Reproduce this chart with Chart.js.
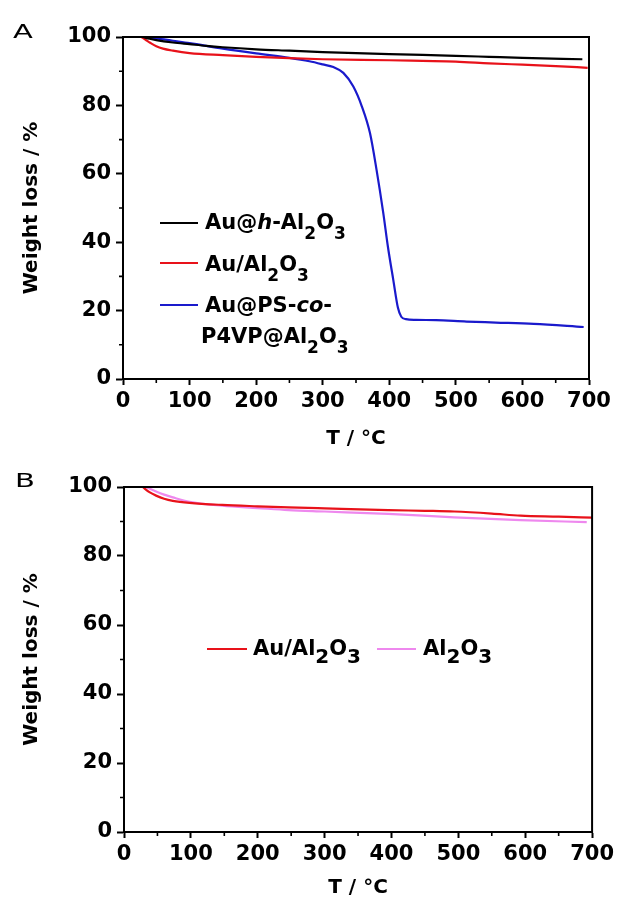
<!DOCTYPE html>
<html><head><meta charset="utf-8">
<script src="https://cdn.jsdelivr.net/npm/chart.js@4.4.1/dist/chart.umd.min.js"></script>
<style>
html,body{margin:0;padding:0;background:#fff;}
body{width:618px;height:905px;position:relative;overflow:hidden;font-family:"DejaVu Sans",sans-serif;}
.panel{position:absolute;left:0;width:618px;}
.panel canvas{display:block;}
.plabel{position:absolute;font-size:20px;line-height:20px;color:#000;transform:scaleX(1.45);transform-origin:left top;}
.leg{position:absolute;font-weight:bold;font-size:21px;line-height:21px;white-space:nowrap;color:#000;}
.leg.a sub{font-size:17px;vertical-align:-10px;line-height:0;}
.leg.b sub{font-size:20px;vertical-align:-8px;line-height:0;}
.sw{position:absolute;height:2px;}
</style></head><body>
<div class="panel" style="top:0;height:455px"><canvas id="cA" width="618" height="455"></canvas></div>
<div class="panel" style="top:455px;height:450px"><canvas id="cB" width="618" height="450"></canvas></div>
<div class="plabel" style="left:13px;top:21px">A</div>
<div class="plabel" style="left:15px;top:470px">B</div>
<div id="legends"></div>
<script>
// ---------- data ----------
// Panel A
const tA_hAl2O3 = [30, 40, 50, 75, 100, 125, 150, 200, 250, 300, 400, 500, 550, 600, 690];
const wA_hAl2O3 = [100, 99.5, 99.1, 98.4, 97.9, 97.4, 97.0, 96.4, 96.0, 95.6, 95.0, 94.5, 94.2, 93.9, 93.5];

const tA_AuAl2O3 = [28, 35, 40, 50, 60, 75, 100, 150, 200, 250, 300, 400, 450, 500, 550, 600, 650, 698];
const wA_AuAl2O3 = [100, 99.0, 98.4, 97.3, 96.6, 96.0, 95.3, 94.7, 94.2, 93.8, 93.5, 93.2, 93.0, 92.8, 92.3, 91.9, 91.5, 91.0];

const tA_PSco = [32, 50, 75, 100, 150, 200, 250, 280, 300, 316, 331, 346, 359, 371, 381, 391, 398, 406, 413, 418, 425, 440, 470, 516, 560, 617, 692];
const wA_PSco = [100, 99.6, 98.9, 98.2, 96.6, 95.2, 93.9, 92.9, 92.0, 91.2, 89.5, 85.5, 79.6, 71.9, 61.0, 48.5, 38.6, 29.0, 20.8, 18.2, 17.5, 17.3, 17.2, 16.8, 16.5, 16.1, 15.2];

// Panel B
const tB_AuAl2O3 = [28, 38, 48, 60, 73, 98, 147, 200, 246, 300, 395, 450, 494, 550, 593, 650, 700];
const wB_AuAl2O3 = [100, 98.5, 97.5, 96.6, 96.0, 95.4, 94.8, 94.4, 94.1, 93.8, 93.3, 93.1, 92.9, 92.3, 91.7, 91.4, 91.1];

const tB_Al2O3 = [33, 48, 60, 73, 98, 147, 200, 246, 300, 395, 494, 593, 692];
const wB_Al2O3 = [100, 98.7, 97.8, 97.0, 95.7, 94.6, 93.9, 93.3, 92.9, 92.2, 91.2, 90.4, 89.8];

// ticks
const xTickValues = [0, 100, 200, 300, 400, 500, 600, 700];
const yTickValues = [0, 20, 40, 60, 80, 100];
const xMinorTicks = [50, 150, 250, 350, 450, 550, 650];
const yMinorTicks = [10, 30, 50, 70, 90];

const xTitle = 'T / \u00B0C';
const yTitle = 'Weight loss / %';

const COL_BLACK = '#000000';
const COL_RED = '#e8121a';
const COL_BLUE = '#1a1acc';
const COL_PINK = '#ee88ee';

const FONT = '"DejaVu Sans", sans-serif';

function pts(t, w) { return t.map((v, i) => ({ x: v, y: w[i] })); }

const framePlugin = {
  id: 'frame',
  afterDraw(chart) {
    const { ctx, chartArea: { left, right, top, bottom }, scales: { x, y } } = chart;
    ctx.save();
    ctx.strokeStyle = '#000';
    ctx.lineWidth = 2;
    ctx.strokeRect(left, top, right - left, bottom - top);
    ctx.lineWidth = 1.6;
    ctx.beginPath();
    xMinorTicks.forEach(v => { const px = x.getPixelForValue(v); ctx.moveTo(px, bottom); ctx.lineTo(px, bottom + 4); });
    yMinorTicks.forEach(v => { const py = y.getPixelForValue(v); ctx.moveTo(left, py); ctx.lineTo(left - 4, py); });
    ctx.stroke();
    ctx.restore();
  }
};

function makeChart(id, datasets, o) {
  return new Chart(document.getElementById(id), {
    type: 'line',
    data: { datasets },
    options: {
      responsive: false, animation: false, devicePixelRatio: 1,
      layout: { padding: { left: 0, right: o.padRight, top: o.padTop, bottom: 0 } },
      plugins: { legend: { display: false }, tooltip: { enabled: false } },
      elements: { point: { radius: 0 }, line: { borderWidth: 2.2, cubicInterpolationMode: 'monotone' } },
      scales: {
        x: {
          type: 'linear', min: 0, max: 700,
          afterBuildTicks: s => { s.ticks = xTickValues.map(v => ({ value: v })); },
          afterFit: s => { s.height = o.xHeight; },
          ticks: { font: { family: FONT, size: 21, weight: 'bold' }, color: '#000', padding: 4, maxRotation: 0, autoSkip: false },
          grid: { drawOnChartArea: false, drawTicks: true, tickLength: 6, tickWidth: 2, tickColor: '#000' },
          border: { display: true, color: '#000', width: 2 },
          title: { display: true, text: xTitle, font: { family: FONT, size: 20, weight: 'bold' }, color: '#000', padding: { top: 0, bottom: o.xTitlePad } }
        },
        y: {
          type: 'linear', min: 0, max: 100,
          afterBuildTicks: s => { s.ticks = yTickValues.map(v => ({ value: v })); },
          afterFit: s => { s.width = o.yWidth; },
          ticks: { font: { family: FONT, size: 21, weight: 'bold' }, color: '#000', padding: 5, autoSkip: false },
          grid: { drawOnChartArea: false, drawTicks: true, tickLength: 7, tickWidth: 2, tickColor: '#000' },
          border: { display: true, color: '#000', width: 2 },
          title: { display: true, text: yTitle, font: { family: FONT, size: 20, weight: 'bold' }, color: '#000', padding: { top: 20, bottom: 0 } }
        }
      }
    },
    plugins: [framePlugin]
  });
}

const seriesA = [
  { label: 'Au@h-Al2O3', html: 'Au@<i>h</i>-Al<sub>2</sub>O<sub>3</sub>', data: pts(tA_hAl2O3, wA_hAl2O3), color: COL_BLACK },
  { label: 'Au/Al2O3', html: 'Au/Al<sub>2</sub>O<sub>3</sub>', data: pts(tA_AuAl2O3, wA_AuAl2O3), color: COL_RED },
  { label: 'Au@PS-co-P4VP@Al2O3', html: 'Au@PS-<i>co</i>-', html2: 'P4VP@Al<sub>2</sub>O<sub>3</sub>', data: pts(tA_PSco, wA_PSco), color: COL_BLUE }
];
const seriesB = [
  { label: 'Au/Al2O3', html: 'Au/Al<sub>2</sub>O<sub>3</sub>', data: pts(tB_AuAl2O3, wB_AuAl2O3), color: COL_RED },
  { label: 'Al2O3', html: 'Al<sub>2</sub>O<sub>3</sub>', data: pts(tB_Al2O3, wB_Al2O3), color: COL_PINK }
];

const toDs = s => ({ label: s.label, data: s.data, borderColor: s.color, backgroundColor: s.color, fill: false });

makeChart('cA', seriesA.map(toDs), { padRight: 29, padTop: 37, xHeight: 76, yWidth: 123, xTitlePad: 4 });
makeChart('cB', seriesB.map(toDs), { padRight: 23, padTop: 32, xHeight: 73, yWidth: 124, xTitlePad: 5 });

// ---------- legends (HTML, for sub/italic text) ----------
const legendBox = document.getElementById('legends');
function addSwatch(x, y, w, color) {
  const d = document.createElement('div');
  d.className = 'sw';
  d.style.left = x + 'px'; d.style.top = (y - 1) + 'px'; d.style.width = w + 'px'; d.style.background = color;
  legendBox.appendChild(d);
}
function addText(x, capCenter, html, cls) {
  const d = document.createElement('div');
  d.className = 'leg ' + cls;
  d.style.left = x + 'px'; d.style.top = (capCenter - 10) + 'px';
  d.innerHTML = html;
  legendBox.appendChild(d);
}
const legA = [{ ly: 223, ty: 221.5 }, { ly: 263, ty: 263.5 }, { ly: 305, ty: 305 }];
seriesA.forEach((s, i) => {
  addSwatch(160, legA[i].ly, 38, s.color);
  addText(205, legA[i].ty, s.html, 'a');
  if (s.html2) addText(201, 336, s.html2, 'a');
});
const legB = [{ lx: 207, lw: 40, tx: 253 }, { lx: 377, lw: 39, tx: 423 }];
seriesB.forEach((s, i) => {
  addSwatch(legB[i].lx, 649, legB[i].lw, s.color);
  addText(legB[i].tx, 648, s.html, 'b');
});
</script>
</body></html>
